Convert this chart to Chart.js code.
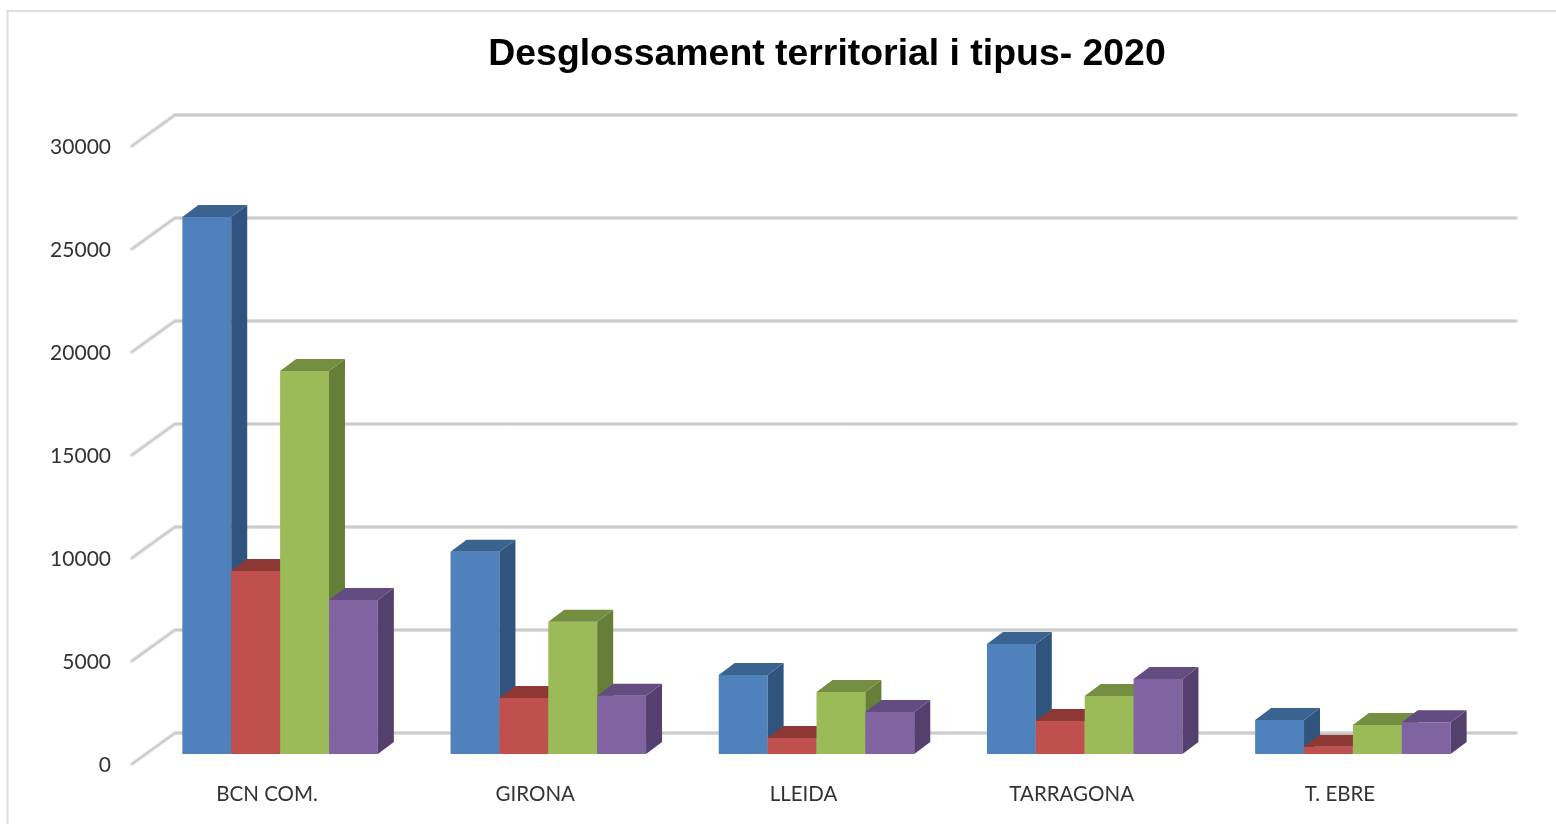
<!DOCTYPE html>
<html lang="ca">
<head>
<meta charset="utf-8">
<title>Desglossament territorial i tipus- 2020</title>
<style>
html,body{margin:0;padding:0;background:#fff;width:1556px;height:824px;overflow:hidden}
#wrap{position:relative;width:1556px;height:824px}
canvas{display:block}
</style>
<script src="https://cdn.jsdelivr.net/npm/chart.js@4/dist/chart.umd.min.js"></script>
</head>
<body>
<div id="wrap"><canvas id="c" width="1556" height="824"></canvas></div>
<script>
const titleText = 'Desglossament territorial i tipus- 2020';
const categories = ['BCN COM.', 'GIRONA', 'LLEIDA', 'TARRAGONA', 'T. EBRE'];
const tickValues = [0, 5000, 10000, 15000, 20000, 25000, 30000];
const serie1 = [26070, 9820, 3835, 5340, 1650];
const serie2 = [8880, 2720, 780, 1600, 355];
const serie3 = [18590, 6420, 3010, 2815, 1410];
const serie4 = [7480, 2830, 2040, 3640, 1540];
const seriesNames = ['Sèrie 1', 'Sèrie 2', 'Sèrie 3', 'Sèrie 4'];
const seriesValues = [serie1, serie2, serie3, serie4];
const frontColors = ['#4F81BD', '#C0504D', '#9BBB59', '#8064A2'];
const sideColors  = ['#31547E', '#8A3A37', '#667F38', '#553F6D'];
const topColors   = ['#3B6390', '#8E3835', '#758F42', '#634C80'];

const BAR_DX = 16, BAR_DY = 12;          // bar depth
const WALL_DX = 29, WALL_DY = 21;        // bars plane -> back wall
const FRONT_DX = -14, FRONT_DY = 10;     // bars plane -> front edge of the side wall

function gridLine(ctx, pts) {
  ctx.save();
  ctx.lineJoin = 'round'; ctx.lineCap = 'round';
  ctx.beginPath();
  pts.forEach((p, i) => i ? ctx.lineTo(p[0], p[1]) : ctx.moveTo(p[0], p[1]));
  ctx.strokeStyle = '#dfdfdf'; ctx.lineWidth = 4; ctx.stroke();
  ctx.beginPath();
  pts.forEach((p, i) => i ? ctx.lineTo(p[0], p[1]) : ctx.moveTo(p[0], p[1]));
  ctx.strokeStyle = '#bababa'; ctx.lineWidth = 1; ctx.stroke();
  ctx.restore();
}

const scene3d = {
  id: 'scene3d',
  afterLayout(chart) {
    chart.titleBlock.left = 167;
  },
  beforeDraw(chart) {
    const ctx = chart.ctx;
    ctx.save();
    ctx.strokeStyle = '#dedede'; ctx.lineWidth = 2;
    ctx.beginPath();
    ctx.moveTo(1556, 11); ctx.lineTo(7.5, 11); ctx.lineTo(7.5, 824);
    ctx.stroke();
    ctx.restore();
  },
  beforeDatasetsDraw(chart) {
    const ctx = chart.ctx, y = chart.scales.y, a = chart.chartArea;
    tickValues.forEach(v => {
      const p = y.getPixelForValue(v);
      gridLine(ctx, [
        [a.left + FRONT_DX, p + FRONT_DY],
        [a.left + WALL_DX, p - WALL_DY],
        [a.right + WALL_DX, p - WALL_DY]
      ]);
    });
  },
  // The default pass paints the last series first; here the first series must
  // be painted first so that each front face covers its left neighbour's side.
  beforeDatasetDraw() { return false; },
  afterDatasetsDraw(chart) {
    const ctx = chart.ctx;
    seriesValues.forEach((_, i) => {
      chart.getDatasetMeta(i).data.forEach(bar => {
        bar.draw(ctx);
        const l = bar.x - bar.width / 2, r = bar.x + bar.width / 2, t = bar.y, b = bar.base;
        ctx.save();
        ctx.fillStyle = sideColors[i];
        ctx.beginPath();
        ctx.moveTo(r, t); ctx.lineTo(r + BAR_DX, t - BAR_DY);
        ctx.lineTo(r + BAR_DX, b - BAR_DY); ctx.lineTo(r, b);
        ctx.closePath(); ctx.fill();
        ctx.fillStyle = topColors[i];
        ctx.beginPath();
        ctx.moveTo(l, t); ctx.lineTo(l + BAR_DX, t - BAR_DY);
        ctx.lineTo(r + BAR_DX, t - BAR_DY); ctx.lineTo(r, t);
        ctx.closePath(); ctx.fill();
        ctx.restore();
      });
    });
  }
};

new Chart(document.getElementById('c'), {
  type: 'bar',
  plugins: [scene3d],
  data: {
    labels: categories,
    datasets: seriesValues.map((values, i) => ({
      label: seriesNames[i],
      data: values,
      backgroundColor: frontColors[i],
      borderWidth: 0,
      barPercentage: 1,
      categoryPercentage: 195.5 / 268.2
    }))
  },
  options: {
    responsive: false,
    animation: false,
    layout: { padding: { left: 0, right: 69, top: 0, bottom: 0 } },
    plugins: {
      legend: { display: false },
      tooltip: { enabled: false },
      title: {
        display: true,
        text: titleText,
        color: '#000',
        font: { family: '"Liberation Sans", Arial, sans-serif', size: 37.4, weight: 'bold', lineHeight: 1.2 },
        padding: { top: 32.6, bottom: 58.5 }
      }
    },
    scales: {
      x: {
        grid: { display: false, drawTicks: false },
        border: { display: false },
        afterFit(s) { s.height = 70; },
        ticks: {
          color: '#333',
          font: { family: 'Lato, sans-serif', size: 20.5 },
          padding: 28,
          labelOffset: -13,
          autoSkip: false,
          maxRotation: 0
        }
      },
      y: {
        min: 0,
        max: 30000,
        grid: { display: false, drawTicks: false },
        border: { display: false },
        afterFit(s) { s.width = 146; },
        afterBuildTicks(s) { s.ticks = tickValues.map(value => ({ value })); },
        ticks: {
          color: '#333',
          font: { family: 'Lato, sans-serif', size: 21 },
          padding: 35,
          labelOffset: 11.5,
          callback: v => String(v)
        }
      }
    }
  }
});
</script>
</body>
</html>
